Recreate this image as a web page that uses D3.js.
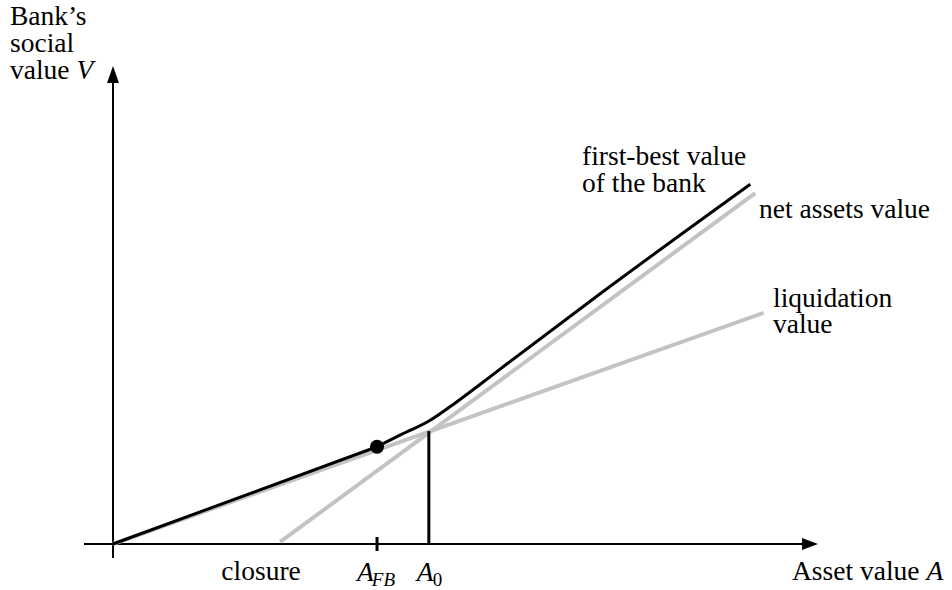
<!DOCTYPE html>
<html>
<head>
<meta charset="utf-8">
<script src="https://cdn.jsdelivr.net/npm/d3@7"></script>
<style>
  body { margin: 0; background: #fff; }
</style>
</head>
<body>
<div id="chart"></div>
<script>
// Values (arbitrary units, origin at 0,0)
const liquidation = [[0, 0], [9.23, 3.40]];
const netAssets = [[2.37, 0.03], [9.11, 5.16]];
const firstBestLow = [[0, 0], [3.745, 1.43]];
const firstBestHigh = [[3.745, 1.43], [4.07, 1.60], [4.50, 1.82], [4.85, 2.07], [5.21, 2.35], [5.59, 2.65], [6.91, 3.68], [9.04, 5.29]];
const aFB = 3.745;
const a0 = 4.48;
const a0Height = 1.66;
const closureX = 2.1;

const width = 952, height = 590;
const fontSize = 27.5;
const serif = "'Liberation Serif', 'Times New Roman', Times, serif";

const svg = d3.select("#chart")
    .append("svg")
    .attr("width", width)
    .attr("height", height)
    .attr("font-family", serif);

// Scales
const x = d3.scaleLinear().domain([0, 10]).range([113, 818]);
const y = d3.scaleLinear().domain([0, 7]).range([544, 68]);

const line = d3.line()
    .x(d => x(d[0]))
    .y(d => y(d[1]));

// Axes
svg.append("line")
    .attr("x1", x(0)).attr("x2", x(0))
    .attr("y1", y(0) + 14).attr("y2", y(7) + 14)
    .attr("stroke", "#000").attr("stroke-width", 2);
svg.append("path")
    .attr("d", `M${x(0)},${y(7) - 2}L${x(0) - 6},${y(7) + 15}L${x(0) + 6},${y(7) + 15}Z`)
    .attr("fill", "#000");

svg.append("line")
    .attr("x1", x(0) - 29).attr("x2", x(10) - 12)
    .attr("y1", y(0)).attr("y2", y(0))
    .attr("stroke", "#000").attr("stroke-width", 2);
svg.append("path")
    .attr("d", `M${x(10)},${y(0)}L${x(10) - 16},${y(0) - 6}L${x(10) - 16},${y(0) + 6}Z`)
    .attr("fill", "#000");

// Grey lines
svg.append("path")
    .datum(liquidation)
    .attr("fill", "none")
    .attr("stroke", "#c3c3c3")
    .attr("stroke-width", 4)
    .attr("d", line);

svg.append("path")
    .datum(netAssets)
    .attr("fill", "none")
    .attr("stroke", "#c3c3c3")
    .attr("stroke-width", 4)
    .attr("d", line);

// First-best value
svg.append("path")
    .datum(firstBestLow)
    .attr("fill", "none")
    .attr("stroke", "#000")
    .attr("stroke-width", 3)
    .attr("d", line);

svg.append("path")
    .datum(firstBestHigh)
    .attr("fill", "none")
    .attr("stroke", "#000")
    .attr("stroke-width", 3)
    .attr("d", line.curve(d3.curveMonotoneX));

// A0 vertical, A_FB tick, dot
svg.append("line")
    .attr("x1", x(a0)).attr("x2", x(a0))
    .attr("y1", y(0)).attr("y2", y(a0Height))
    .attr("stroke", "#000").attr("stroke-width", 3);

svg.append("line")
    .attr("x1", x(aFB)).attr("x2", x(aFB))
    .attr("y1", y(0) - 7).attr("y2", y(0) + 7)
    .attr("stroke", "#000").attr("stroke-width", 3);

svg.append("circle")
    .attr("cx", x(firstBestHigh[0][0]))
    .attr("cy", y(firstBestHigh[0][1]))
    .attr("r", 7)
    .attr("fill", "#000");

// Labels
function addText(tx, ty, str, anchor) {
    return svg.append("text")
        .attr("x", tx).attr("y", ty)
        .attr("font-size", fontSize)
        .attr("text-anchor", anchor || "start")
        .text(str);
}

const yLab = svg.append("text")
    .attr("font-size", fontSize);
yLab.append("tspan").attr("x", 10).attr("y", 25).text("Bank’s");
yLab.append("tspan").attr("x", 10).attr("y", 52).text("social");
yLab.append("tspan").attr("x", 10).attr("y", 79).text("value ");
yLab.append("tspan").attr("font-style", "italic").text("V");

addText(582, 165, "first-best value");
addText(582, 192, "of the bank");
addText(759, 218, "net assets value");
addText(773, 307, "liquidation");
addText(773, 333, "value");

addText(x(closureX), 580, "closure", "middle");

const afb = svg.append("text")
    .attr("x", x(aFB) - 20).attr("y", 581)
    .attr("font-size", fontSize);
afb.append("tspan").attr("font-style", "italic").text("A");
afb.append("tspan").attr("font-style", "italic").attr("font-size", 19).attr("dy", 5).attr("dx", -2).text("FB");

const a0t = svg.append("text")
    .attr("x", x(a0) - 12).attr("y", 581)
    .attr("font-size", fontSize);
a0t.append("tspan").attr("font-style", "italic").text("A");
a0t.append("tspan").attr("font-size", 19).attr("dy", 5).attr("dx", -1).text("0");

const axLab = svg.append("text")
    .attr("x", 792).attr("y", 580)
    .attr("font-size", fontSize);
axLab.append("tspan").text("Asset value ");
axLab.append("tspan").attr("font-style", "italic").text("A");
</script>
</body>
</html>
